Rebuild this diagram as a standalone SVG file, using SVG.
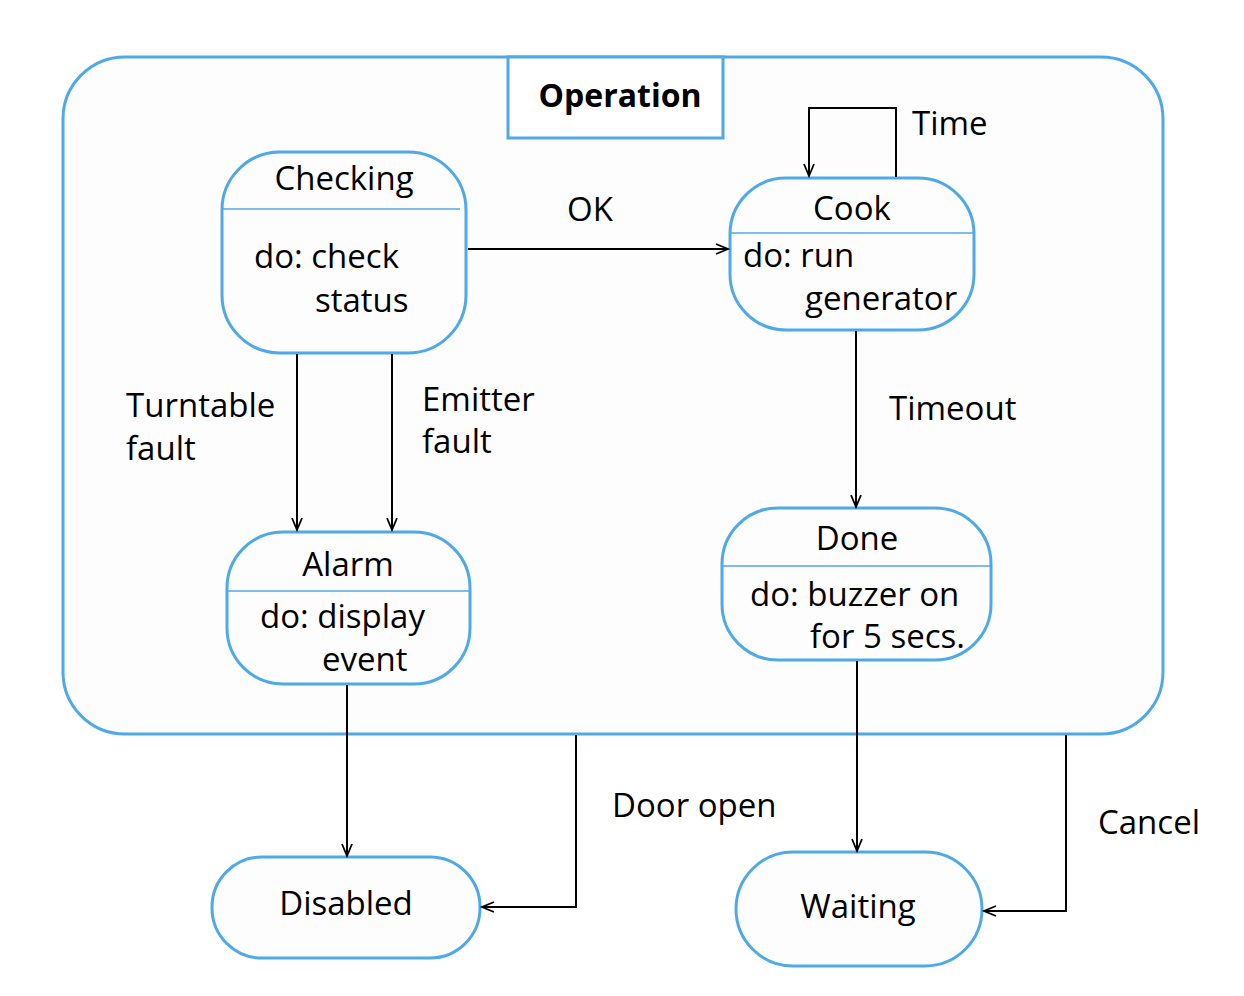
<svg xmlns="http://www.w3.org/2000/svg" width="1244" height="996" viewBox="0 0 1244 996">
<defs>
<marker id="arr" markerUnits="userSpaceOnUse" markerWidth="16" markerHeight="14" refX="13" refY="6" orient="auto">
<path d="M1,1 L13,6 L1,11" fill="none" stroke="#000" stroke-width="1.8"/>
</marker>
<style>
.st{fill:#fdfdfd;stroke:#4fa9e6;stroke-width:3}
.dv{stroke:#4fa9e6;stroke-width:1.5}
.t{font-family:"Open Sans","Noto Sans",sans-serif;font-size:33px;fill:#000}
.c{text-anchor:middle}
.b{font-weight:bold;font-size:32px}
.cn{fill:none;stroke:#000;stroke-width:2}
</style>
</defs>
<rect width="1244" height="996" fill="#fff"/>
<g id="operation">
<rect x="63" y="57" width="1100" height="677" rx="62" class="st" fill="#fff"/>
<rect x="508" y="57" width="215" height="81" fill="#fff" stroke="#4fa9e6" stroke-width="3"/>
<text x="620" y="107" class="t c b">Operation</text>
</g>
<g id="checking">
<rect x="222" y="152" width="244" height="201" rx="58" class="st"/>
<line x1="222" y1="209" x2="460" y2="209" class="dv"/>
<text x="344" y="190" class="t c">Checking</text>
<text x="254" y="268" class="t">do: check</text>
<text x="315" y="312" class="t">status</text>
</g>
<g id="cook">
<rect x="730" y="178" width="244" height="152" rx="56" class="st"/>
<line x1="730" y1="233" x2="974" y2="233" class="dv"/>
<text x="852" y="220" class="t c">Cook</text>
<text x="743" y="267" class="t">do: run</text>
<text x="805" y="310" class="t">generator</text>
</g>
<g id="alarm">
<rect x="227" y="532" width="243" height="152" rx="56" class="st"/>
<line x1="227" y1="591" x2="470" y2="591" class="dv"/>
<text x="348" y="576" class="t c">Alarm</text>
<text x="260" y="628" class="t">do: display</text>
<text x="322" y="671" class="t">event</text>
</g>
<g id="done">
<rect x="722" y="508" width="269" height="152" rx="56" class="st"/>
<line x1="722" y1="566" x2="991" y2="566" class="dv"/>
<text x="857" y="550" class="t c">Done</text>
<text x="750" y="606" class="t">do: buzzer on</text>
<text x="810" y="648" class="t">for 5 secs.</text>
</g>
<g id="disabled">
<rect x="212" y="857" width="268" height="101" rx="50" class="st"/>
<text x="346" y="915" class="t c">Disabled</text>
</g>
<g id="waiting">
<rect x="736" y="852" width="246" height="114" rx="57" class="st"/>
<text x="858" y="918" class="t c">Waiting</text>
</g>
<g id="connectors">
<line x1="468" y1="249" x2="728" y2="249" class="cn" marker-end="url(#arr)"/>
<polyline points="896,177 896,108 809,108 809,176" class="cn" marker-end="url(#arr)"/>
<line x1="297" y1="354" x2="297" y2="530" class="cn" marker-end="url(#arr)"/>
<line x1="392" y1="354" x2="392" y2="530" class="cn" marker-end="url(#arr)"/>
<line x1="856" y1="331" x2="856" y2="507" class="cn" marker-end="url(#arr)"/>
<line x1="347" y1="685" x2="347" y2="856" class="cn" marker-end="url(#arr)"/>
<polyline points="576,735 576,907 482,907" class="cn" marker-end="url(#arr)"/>
<line x1="857" y1="661" x2="857" y2="851" class="cn" marker-end="url(#arr)"/>
<polyline points="1066,735 1066,911 984,911" class="cn" marker-end="url(#arr)"/>
<text x="567" y="221" class="t">OK</text>
<text x="912" y="135" class="t">Time</text>
<text x="126" y="417" class="t">Turntable</text>
<text x="126" y="460" class="t">fault</text>
<text x="422" y="411" class="t">Emitter</text>
<text x="422" y="453" class="t">fault</text>
<text x="889" y="420" class="t">Timeout</text>
<text x="612" y="817" class="t">Door open</text>
<text x="1098" y="834" class="t">Cancel</text>
</g>
</svg>
